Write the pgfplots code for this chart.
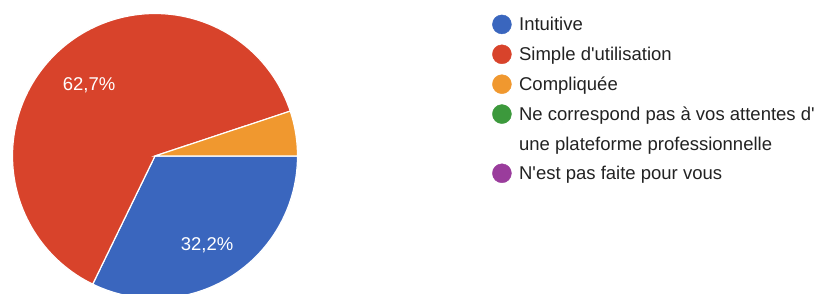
\documentclass[border=0pt]{standalone}
\usepackage{pgfplots}
\pgfplotsset{compat=1.18}
\usepackage{fontspec}
\setmainfont{Liberation Sans}[Ligatures=TeXOff]
\definecolor{pieblue}{HTML}{3A66BE}
\definecolor{piered}{HTML}{D8432B}
\definecolor{pieorange}{HTML}{F0982F}
\definecolor{piegreen}{HTML}{3C993C}
\definecolor{piepurple}{HTML}{9A3C9C}
\definecolor{legtext}{HTML}{222222}
% data (percent)
\def\pIntuitive{32.2}
\def\pSimple{62.7}
\def\pCompliquee{5.1}
\def\pNe{0}
\def\pNest{0}
\begin{document}
\begin{tikzpicture}
\pgfmathsetmacro{\aA}{360-3.6*\pIntuitive}
\pgfmathsetmacro{\aB}{\aA-3.6*\pSimple}
\pgfmathsetmacro{\midA}{(\aA+360)/2}
\pgfmathsetmacro{\midB}{(\aB+\aA)/2}
\def\R{142.5}
\begin{axis}[name=main, width=829bp, height=294bp, scale only axis, hide axis,
  xmin=-155, xmax=674, ymin=-138, ymax=156, clip=true,
  legend style={at={(0.5935,0.9507)}, anchor=north west, draw=none, fill=none,
    inner sep=0pt, inner xsep=0pt, inner ysep=0pt, row sep=10.5bp, column sep=7.5bp,
    cells={anchor=base west},
    nodes={inner sep=0pt, text height=13bp, text depth=3bp, text=legtext,
      font=\fontsize{18.5bp}{29.5bp}\selectfont}},
]
\addplot[forget plot, draw=white, line width=1.2bp, fill=pieblue, domain=\aA:360, samples=80, data cs=polar] (x, \R) -- (axis cs:0,0) -- cycle;
\addplot[forget plot, draw=white, line width=1.2bp, fill=piered, domain=\aB:\aA, samples=120, data cs=polar] (x, \R) -- (axis cs:0,0) -- cycle;
\addplot[forget plot, draw=white, line width=1.2bp, fill=pieorange, domain=0:\aB, samples=20, data cs=polar] (x, \R) -- (axis cs:0,0) -- cycle;
\node[text=white, yshift=-4bp, font=\fontsize{18.5bp}{22bp}\selectfont] at (axis cs:{100*cos(\midB)},{100*sin(\midB)}) {62,7\%};
\node[text=white, yshift=-4bp, xshift=-1bp, font=\fontsize{18.5bp}{22bp}\selectfont] at (axis cs:{100*cos(\midA)},{100*sin(\midA)}) {32,2\%};
\addlegendimage{legend image code/.code={\fill[pieblue] (0pt,6.5bp) circle[radius=9.5bp];}}
\addlegendentry{Intuitive}
\addlegendimage{legend image code/.code={\fill[piered] (0pt,6.5bp) circle[radius=9.5bp];}}
\addlegendentry{Simple d'utilisation}
\addlegendimage{legend image code/.code={\fill[pieorange] (0pt,6.5bp) circle[radius=9.5bp];}}
\addlegendentry{Compliquée}
\addlegendimage{legend image code/.code={\fill[piegreen] (0pt,6.5bp) circle[radius=9.5bp];}}
\addlegendentry[text depth=32.5bp]{\begin{tabular}[t]{@{}l@{}}Ne correspond pas à vos attentes d'\\une plateforme professionnelle\end{tabular}}
\addlegendimage{legend image code/.code={\fill[piepurple] (0pt,6.5bp) circle[radius=9.5bp];}}
\addlegendentry{N'est pas faite pour vous}
\end{axis}
\pgfresetboundingbox
\path[use as bounding box] (main.south west) rectangle (main.north east);
\end{tikzpicture}
\end{document}
